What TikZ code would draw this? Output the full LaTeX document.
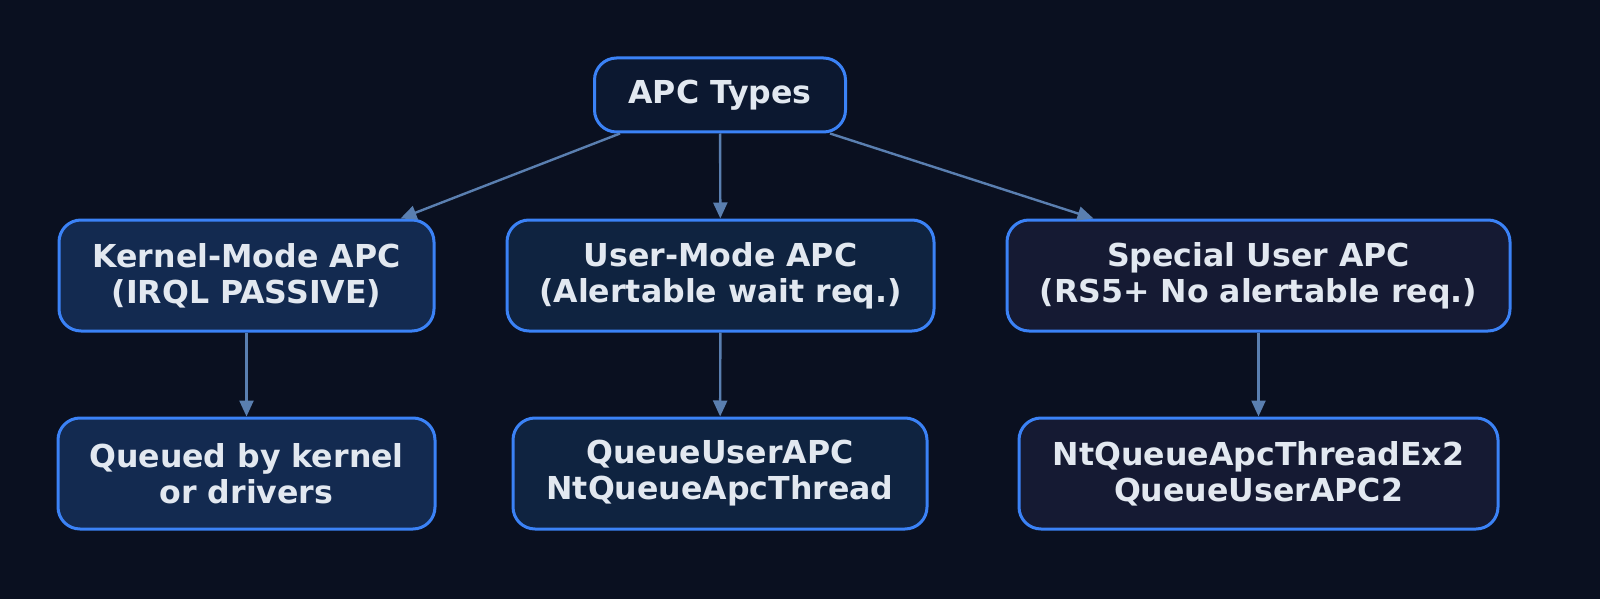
\documentclass[tikz,border=0pt]{standalone}
\usepackage{fontspec}
\setmainfont{DejaVu Sans}
\usetikzlibrary{arrows.meta,calc}
\definecolor{bg}{HTML}{0A1020}
\definecolor{bd}{HTML}{3B82F6}
\definecolor{tx}{HTML}{E2E8F0}
\definecolor{ar}{HTML}{5A7FB0}
\definecolor{fa}{HTML}{0C1830}
\definecolor{fk}{HTML}{132A50}
\definecolor{fu}{HTML}{0F2340}
\definecolor{fs}{HTML}{151A33}
\begin{document}
\begin{tikzpicture}[x=0.5pt,y=-0.5pt,
  box/.style={draw=bd,line width=1.5pt,rounded corners=11pt,text=tx,align=center,
    font=\fontsize{15.8}{18}\selectfont\bfseries,inner sep=0pt},
  arr/.style={draw=ar,line width=1.2pt,-{Triangle[length=8pt,width=7pt]}}]
\fill[bg] (0,0) rectangle (1600,599);
\node[box,fill=fa,minimum width=125.5pt,minimum height=37pt] (top) at (720,95) {APC Types};
\node[box,fill=fk,minimum width=187.5pt,minimum height=55.5pt] (k) at (246.5,275.5) {Kernel-Mode APC\\(IRQL PASSIVE)};
\node[box,fill=fu,minimum width=213.5pt,minimum height=55.5pt] (u) at (720.5,275.5) {User-Mode APC\\(Alertable wait req.)};
\node[box,fill=fs,minimum width=251.5pt,minimum height=55.5pt] (s) at (1258.5,275.5) {Special User APC\\(RS5+ No alertable req.)};
\node[box,fill=fk,minimum width=188.5pt,minimum height=55.5pt] (k2) at (246.5,473.5) {Queued by kernel\\or drivers};
\node[box,fill=fu,minimum width=207pt,minimum height=55.5pt] (u2) at (720,473.5) {QueueUserAPC\\NtQueueApcThread};
\node[box,fill=fs,minimum width=239.5pt,minimum height=55.5pt] (s2) at (1258.5,473.5) {NtQueueApcThreadEx2\\QueueUserAPC2};
\draw[arr] ($(top.south)+(-100,0)$) -- ($(k.north)+(154,0)$);
\draw[arr] (top) -- (u);
\draw[arr] ($(top.south)+(110,0)$) -- ($(s.north)+(-165,0)$);
\draw[arr] (k) -- (k2);
\draw[arr] (u) -- (u2);
\draw[arr] (s) -- (s2);
\end{tikzpicture}
\end{document}
